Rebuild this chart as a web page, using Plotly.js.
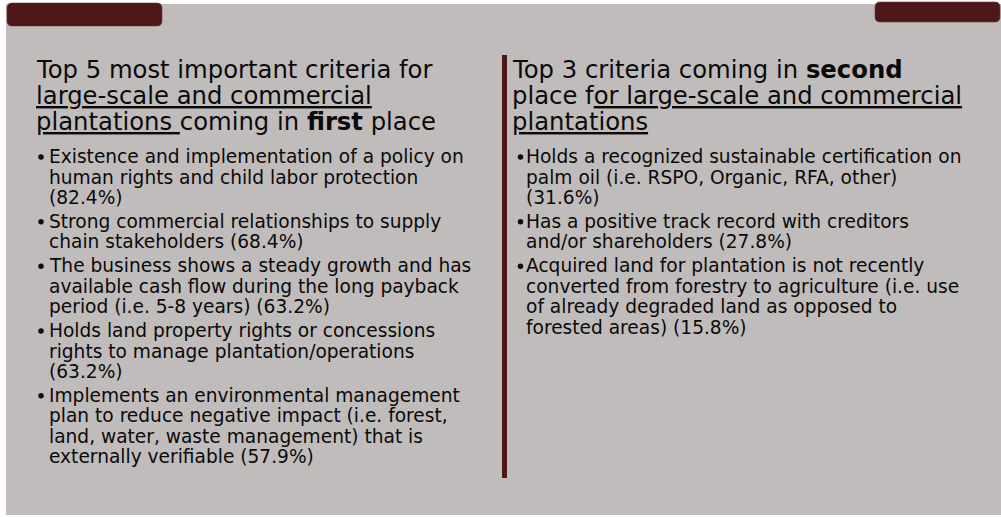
<!DOCTYPE html>
<html>
<head>
<meta charset="utf-8">
<script src="https://cdn.plot.ly/plotly-3.0.1.min.js"></script>
<style>html,body{margin:0;padding:0;background:#fff;}#chart{width:1001px;height:517px;}</style>
</head>
<body>
<div id="chart"></div>
<script>
// ---- content (text + values) ----
// "|" marks a line break as wrapped in the original slide; <u> = underlined
const firstTitle = [
  "Top 5 most important criteria for",
  "<u>large-scale and commercial</u>",
  "<u>plantations </u>coming in <b>first</b> place"
];
const firstCriteria = [
  "Existence and implementation of a policy on|human rights and child labor protection|",
  "Strong commercial relationships to supply|chain stakeholders",
  "The business shows a steady growth and has|available cash flow during the long payback|period (i.e. 5-8 years)",
  "Holds land property rights or concessions|rights to manage plantation/operations|",
  "Implements an environmental management|plan to reduce negative impact (i.e. forest,|land, water, waste management) that is|externally verifiable"
];
const firstShares = [82.4, 68.4, 63.2, 63.2, 57.9];

const secondTitle = [
  "Top 3 criteria coming in <b>second</b>",
  "place f<u>or large-scale and commercial</u>",
  "<u>plantations</u>"
];
const secondCriteria = [
  "Holds a recognized sustainable certification on|palm oil (i.e. RSPO, Organic, RFA, other)|",
  "Has a positive track record with creditors|and/or shareholders",
  "Acquired land for plantation is not recently|converted from forestry to agriculture (i.e. use|of already degraded land as opposed to|forested areas)"
];
const secondShares = [31.6, 27.8, 15.8];

// ---- styling / layout ----
const FONT = "DejaVu Sans, Verdana, sans-serif";
const TEXT_COLOR = "#0a0a0a";
const DARK = "#4f1818";
const GREY = "#c1bcbc";
const TITLE_SIZE = 24.3, TITLE_STEP = 26, TITLE_BASE = 78;
const BODY_SIZE = 18.6, LINE_STEP = 20.4, PARA_GAP = 3.6, BODY_BASE = 163;

function markup(s) {
  return s.replace(/<u>/g, '<span style="text-decoration:underline">').replace(/<\/u>/g, '</span>');
}

const annotations = [];
const dotsX = [], dotsY = [];

function addColumn(titleLines, criteria, shares, titleX, dotX, textX) {
  titleLines.forEach((t, i) => {
    annotations.push({
      xref: 'x', yref: 'y', x: titleX, y: TITLE_BASE + i * TITLE_STEP - 0.34 * TITLE_SIZE,
      xanchor: 'left', yanchor: 'middle', showarrow: false, text: markup(t),
      font: {family: FONT, size: TITLE_SIZE, color: TEXT_COLOR}, borderpad: 0, borderwidth: 0
    });
  });
  let lineIdx = 0;
  criteria.forEach((c, p) => {
    const full = c + (c.endsWith('|') ? '' : ' ') + '(' + shares[p].toFixed(1) + '%)';
    const lines = full.split('|');
    lines.forEach((ln, j) => {
      const base = BODY_BASE + lineIdx * LINE_STEP + p * PARA_GAP;
      if (j === 0) { dotsX.push(dotX); dotsY.push(base - 6); }
      annotations.push({
        xref: 'x', yref: 'y', x: textX, y: base - 0.34 * BODY_SIZE,
        xanchor: 'left', yanchor: 'middle', showarrow: false, text: ln,
        font: {family: FONT, size: BODY_SIZE, color: TEXT_COLOR}, borderpad: 0, borderwidth: 0
      });
      lineIdx++;
    });
  });
}

addColumn(firstTitle, firstCriteria, firstShares, 36, 41, 49);
addColumn(secondTitle, secondCriteria, secondShares, 512, 520.5, 525.5);

function roundRect(x0, y0, x1, y1, r) {
  return `M${x0 + r},${y0} L${x1 - r},${y0} Q${x1},${y0} ${x1},${y0 + r} L${x1},${y1 - r} Q${x1},${y1} ${x1 - r},${y1} L${x0 + r},${y1} Q${x0},${y1} ${x0},${y1 - r} L${x0},${y0 + r} Q${x0},${y0} ${x0 + r},${y0} Z`;
}

const shapes = [
  {type: 'rect', xref: 'x', yref: 'y', x0: 6, x1: 1001, y0: 4, y1: 515, fillcolor: GREY, line: {width: 0}, layer: 'below'},
  {type: 'path', xref: 'x', yref: 'y', path: roundRect(7, 3, 162, 26, 5), fillcolor: DARK, line: {color: '#6a3a3a', width: 0.6}, layer: 'below'},
  {type: 'path', xref: 'x', yref: 'y', path: roundRect(875, 2, 1000, 22, 5), fillcolor: DARK, line: {color: '#6a3a3a', width: 0.6}, layer: 'below'},
  {type: 'rect', xref: 'x', yref: 'y', x0: 502, x1: 507, y0: 55, y1: 478, fillcolor: DARK, line: {width: 0}, layer: 'below'}
];

const data = [{
  type: 'scatter', mode: 'markers', x: dotsX, y: dotsY,
  marker: {size: 5.5, color: TEXT_COLOR, line: {width: 0}}, hoverinfo: 'skip', showlegend: false
}];

const layout = {
  width: 1001, height: 517,
  margin: {l: 0, r: 0, t: 0, b: 0, pad: 0},
  paper_bgcolor: '#ffffff', plot_bgcolor: 'rgba(0,0,0,0)',
  xaxis: {range: [0, 1001], visible: false, fixedrange: true},
  yaxis: {range: [517, 0], visible: false, fixedrange: true},
  shapes: shapes,
  annotations: annotations,
  showlegend: false
};

Plotly.newPlot('chart', data, layout, {displayModeBar: false, staticPlot: true});
</script>
</body>
</html>
